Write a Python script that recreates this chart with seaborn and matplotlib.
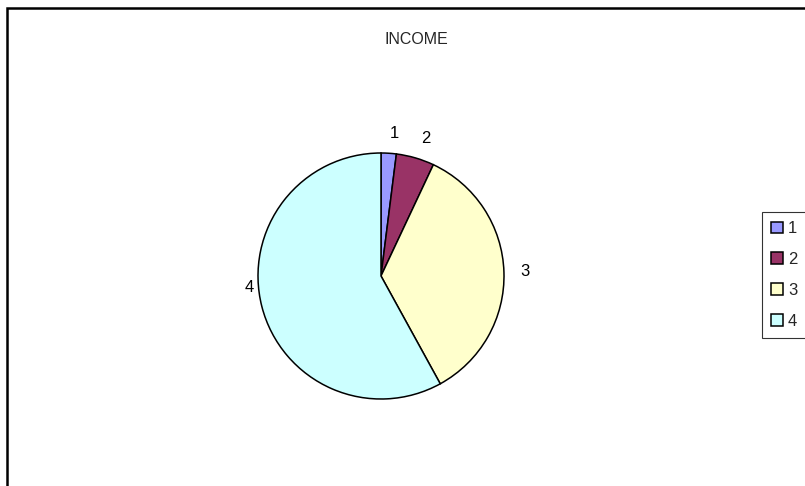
import matplotlib
matplotlib.use("Agg")
import matplotlib.pyplot as plt
import matplotlib.patches as mpatches
import seaborn as sns

# data
categories = ["1", "2", "3", "4"]
shares = [2, 5, 35, 58]
slice_colors = ["#9999FF", "#993366", "#FFFFCC", "#CCFFFF"]

sns.set_style("white")
plt.rcParams["font.family"] = ["Liberation Sans", "DejaVu Sans"]

W, H = 805, 486
fig = plt.figure(figsize=(W / 100, H / 100), dpi=100)

# chart area border (runs off right and bottom edges)
border = mpatches.Rectangle((6.5 / W, -0.2), 1.2, 1.2 - 7.5 / H,
                            transform=fig.transFigure, fill=False,
                            edgecolor="black", linewidth=1.8)
fig.patches.append(border)

# pie axes
cx, cy, r = 381, 276, 123
ax = fig.add_axes([(cx - r) / W, 1 - (cy + r) / H, 2 * r / W, 2 * r / H])
palette = sns.color_palette(slice_colors)
wedges, texts = ax.pie(shares, labels=categories, colors=palette,
                       startangle=90, counterclock=False,
                       labeldistance=1.16,
                       wedgeprops=dict(edgecolor="black", linewidth=1.1),
                       textprops=dict(fontsize=12, color="black"))
# excel puts the big slice's label level with the centre
texts[3].set_position((-1.075, -0.09))
texts[3].set_ha("center")
texts[2].set_position((1.13, 0.04))
ax.set_aspect("equal")
ax.set_xlim(-1, 1)
ax.set_ylim(-1, 1)
ax.axis("off")

fig.text(416 / W, 1 - 40 / H, "INCOME", ha="center", va="center", fontsize=11.5)

leg = fig.legend(wedges, categories, loc="upper left",
                 bbox_to_anchor=(762 / W, 1 - 212 / H),
                 fontsize=12, frameon=True, fancybox=False,
                 edgecolor="black", handlelength=0.7, handleheight=0.7,
                 handletextpad=0.3, labelspacing=0.95, borderpad=0.55,
                 borderaxespad=0)
leg.get_frame().set_linewidth(0.8)

fig.savefig("out.png", dpi=100)
